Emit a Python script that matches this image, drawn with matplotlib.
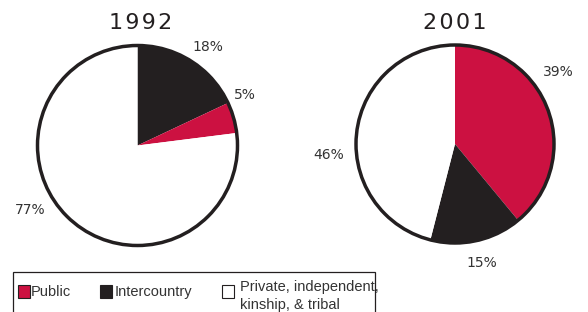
import matplotlib
matplotlib.use('agg')
import matplotlib.pyplot as plt
from matplotlib.patches import Circle, Rectangle

# data
categories = ['Public', 'Intercountry', 'Private, independent,\nkinship, & tribal']
colors = ['#CC1141', '#231F20', '#FFFFFF']
years = ['1992', '2001']
values_1992 = [5, 18, 77]
values_2001 = [39, 15, 46]
# drawing order (clockwise from 12 o'clock) for each year
order_1992 = [1, 0, 2]
order_2001 = [0, 1, 2]
# label spots, in pie-radius units, same order as categories
label_pos_1992 = [(1.075, 0.505), (0.705, 0.985), (-1.075, -0.645)]
label_pos_2001 = [(1.04, 0.73), (0.27, -1.20), (-1.28, -0.11)]

ink = '#231F20'
plt.rcParams['font.family'] = ['DejaVu Sans']

fig = plt.figure(figsize=(5.88, 3.12), dpi=100)
W, H = 588, 312


def draw_pie(cx, cy, r, values, order, label_pos):
    # pixel center / radius -> axes in figure fraction
    ax = fig.add_axes([(cx - r) / W, 1 - (cy + r) / H, 2 * r / W, 2 * r / H])
    vals = [values[i] for i in order]
    cols = [colors[i] for i in order]
    ax.pie(vals, colors=cols, startangle=90, counterclock=False, radius=1,
           wedgeprops=dict(linewidth=0))
    ax.add_patch(Circle((0, 0), 1, fill=False, edgecolor=ink, linewidth=2.5,
                        clip_on=False))
    for v, (x, y) in zip(values, label_pos):
        ax.text(x, y, f'{v}%', ha='center', va='center', fontsize=10, color='#333333')
    ax.set_xlim(-1, 1)
    ax.set_ylim(-1, 1)
    ax.set_aspect('equal')
    ax.axis('off')
    return ax


draw_pie(137.5, 145.5, 100, values_1992, order_1992, label_pos_1992)
draw_pie(455, 144, 99, values_2001, order_2001, label_pos_2001)

# titles, slightly letter-spaced
for yr, tx in zip(years, [141, 455]):
    fig.text(tx / W, 1 - 23 / H, '\u200a'.join(yr), ha='center', va='center',
             fontsize=16, color=ink)

# legend box (runs off the bottom edge like the original)
fig.patches.append(Rectangle((13 / W, -0.2), (375 - 13) / W, 0.2 + 1 - 272 / H,
                             transform=fig.transFigure, fill=False,
                             edgecolor=ink, linewidth=0.9))
handle_x = [18, 100, 222]
text_x = [31, 115, 240]
text_top = [285, 285, 280]
for cat, col, hx, tx, ty in zip(categories, colors, handle_x, text_x, text_top):
    fig.patches.append(Rectangle((hx / W, 1 - 298 / H), 12 / W, 13 / H,
                                 transform=fig.transFigure, facecolor=col,
                                 edgecolor=ink, linewidth=0.8))
    fig.text(tx / W, 1 - ty / H, cat, ha='left', va='top', fontsize=10.5,
             family='Liberation Sans', color='#333333', linespacing=1.4)

fig.savefig('out.png', dpi=100)
